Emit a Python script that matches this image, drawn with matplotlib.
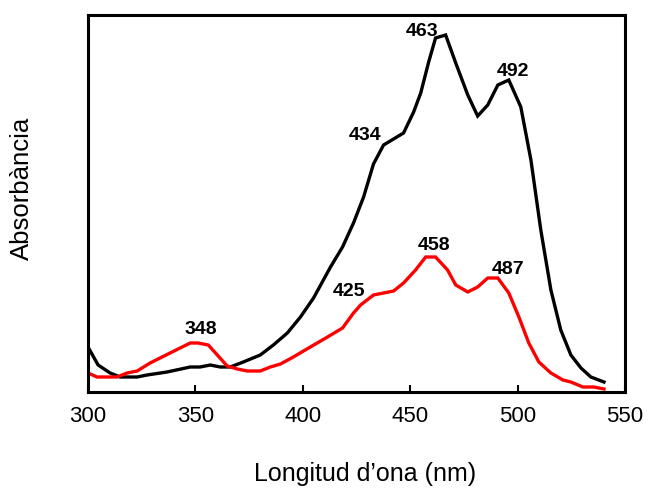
import matplotlib
matplotlib.use("Agg")
import matplotlib.pyplot as plt

black_nm = [300, 304.7, 310.3, 314.9, 322.9, 327.5, 336.8, 347.6, 352.2, 356.9, 361.6,
            366.2, 372.3, 380.2, 386.3, 392.8, 398.9, 405.0, 412.9, 418.5, 423.6, 428.3,
            432.9, 437.6, 446.9, 451.6, 454.9, 458.6, 461.8, 466.5, 471.2, 476.8,
            481.4, 486.1, 490.8, 495.9, 501.5, 506.2, 510.8, 515.5, 520.1, 524.8, 529.5,
            534.1, 540.2]
black_abs = [45, 27, 19, 15, 15, 17, 20, 25, 25, 27, 25,
             25, 30, 37, 47, 59, 75, 94, 125, 145, 169, 195,
             228, 247, 259, 280, 299, 330, 354, 357, 329, 297,
             276, 287, 307, 312, 285, 232, 162, 102, 62, 37, 24,
             15, 10]

red_nm = [300, 304.2, 313.5, 318.2, 322.9, 328.9, 338.2, 342.9, 347.6, 351.3, 356.0,
          360.2, 364.8, 369.5, 374.2, 380.2, 384.9, 389.6, 395.6, 403.5, 411.5, 418.5,
          423.6, 426.9, 432.9, 442.3, 446.9, 452.5, 457.2, 461.8, 467.4, 471.2, 476.8,
          481.4, 486.1, 490.8, 495.9, 500.6, 505.2, 509.9, 515.5, 521.1, 524.8, 530.4,
          535.5, 540.2]
red_abs = [19, 15, 15, 19, 21, 29, 39, 44, 49, 49, 47,
           37, 26, 23, 21, 21, 25, 28, 35, 45, 55, 64,
           79, 87, 97, 101, 109, 122, 135, 135, 122, 107, 100,
           105, 114, 114, 99, 75, 49, 30, 19, 12, 10, 5,
           5, 3]

peak_labels = ["348", "425", "434", "463", "492", "458", "487"]
peak_x = [352.5, 421.3, 429.2, 455.3, 497.8, 460.9, 495.4]
peak_y = [63, 101, 256, 360, 321, 147, 122]

xticks = [300, 350, 400, 450, 500, 550]

plt.rcParams['font.family'] = ['Liberation Sans', 'DejaVu Sans']

fig = plt.figure(figsize=(6.48, 4.88), dpi=100)
ax = fig.add_axes([88/648, 1-392/488, (625-88)/648, (392-15)/488])

ax.plot(black_nm, black_abs, color='black', lw=2.4, solid_joinstyle='miter')
ax.plot(red_nm, red_abs, color='#ff0000', lw=2.4, solid_joinstyle='miter')

for t, x, y in zip(peak_labels, peak_x, peak_y):
    ax.text(x, y, t, ha='center', va='center', fontsize=14, fontweight='bold')

ax.set_xlim(300, 550)
ax.set_ylim(0, 377)
ax.set_xticks(xticks)
ax.set_xticklabels([str(v) for v in xticks], fontsize=16)
ax.set_yticks([])
ax.tick_params(axis='x', direction='in', length=5, width=1.5, pad=10)
for s in ax.spines.values():
    s.set_linewidth(2.2)

ax.set_xlabel("Longitud d\u2019ona (nm)", fontsize=18)
ax.xaxis.label.set_va('center')
ax.xaxis.set_label_coords((365-88)/537, (392-474)/377)
ax.set_ylabel("Absorbància", fontsize=18.5)
ax.yaxis.label.set_va('center')
ax.yaxis.set_label_coords((22-88)/537, (392-188)/377)

fig.savefig("out.png", dpi=100)
